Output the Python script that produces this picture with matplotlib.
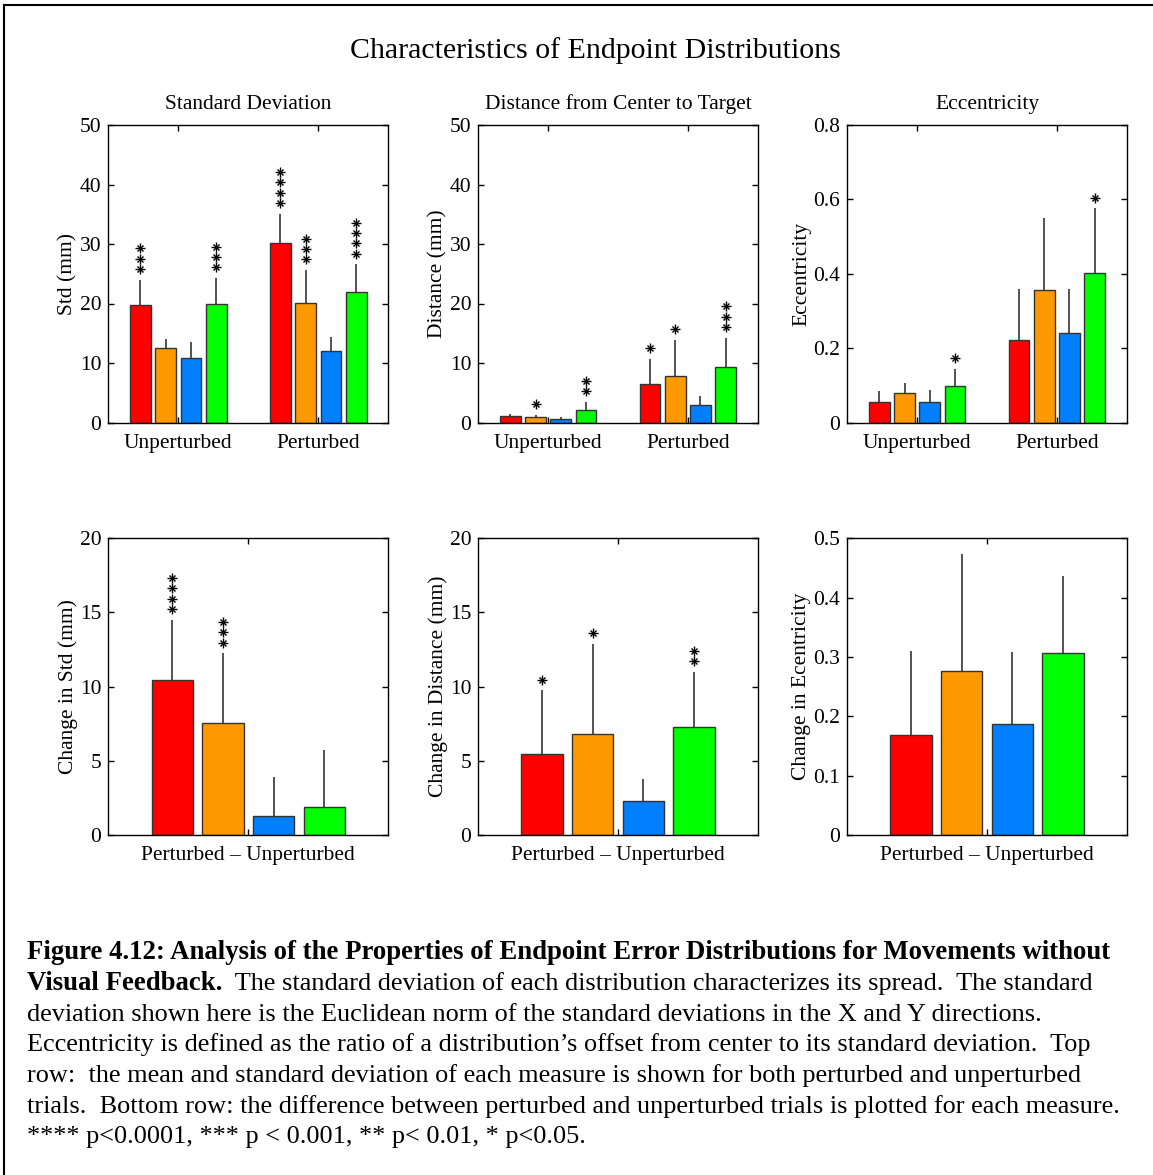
import matplotlib
matplotlib.use("Agg")
import matplotlib.pyplot as plt
import numpy as np
from matplotlib.lines import Line2D

plt.rcParams['font.family'] = ['Liberation Serif', 'DejaVu Serif']

# ---------------- data ----------------
colors = ['#FF0000', '#FF9900', '#0080FF', '#00FF00']
top_groups = ['Unperturbed', 'Perturbed']
diff_group = ['Perturbed \u2013 Unperturbed']

std_mean = [[19.7, 12.5, 10.8, 20.0], [30.2, 20.1, 12.05, 21.9]]
std_err = [[4.3, 1.6, 2.8, 4.3], [4.9, 5.5, 2.35, 4.7]]
std_stars = [[3, 0, 0, 3], [4, 3, 0, 4]]

dist_mean = [[1.06, 1.0, 0.62, 2.07], [6.5, 7.85, 2.91, 9.36]]
dist_err = [[0.45, 0.25, 0.3, 1.35], [4.15, 6.0, 1.52, 4.88]]
dist_stars = [[0, 1, 0, 2], [1, 1, 0, 3]]

ecc_mean = [[0.054, 0.078, 0.054, 0.097], [0.222, 0.355, 0.241, 0.403]]
ecc_err = [[0.030, 0.028, 0.033, 0.048], [0.138, 0.194, 0.119, 0.173]]
ecc_stars = [[0, 0, 0, 1], [0, 0, 0, 1]]

dstd_mean = [[10.43, 7.57, 1.28, 1.91]]
dstd_err = [[4.09, 4.68, 2.61, 3.82]]
dstd_stars = [[4, 3, 0, 0]]

ddist_mean = [[5.46, 6.83, 2.27, 7.28]]
ddist_err = [[4.29, 6.07, 1.53, 3.71]]
ddist_stars = [[1, 1, 0, 2]]

decc_mean = [[0.168, 0.277, 0.1865, 0.307]]
decc_err = [[0.142, 0.197, 0.1225, 0.130]]
decc_stars = [[0, 0, 0, 0]]

W, H = 1153, 1175
fig = plt.figure(figsize=(W / 100, H / 100), dpi=100)

def axrect(x0, y0, x1, y1):
    return [x0 / W, 1 - y1 / H, (x1 - x0) / W, (y1 - y0) / H]

offs = np.array([-1.5, -0.5, 0.5, 1.5]) * 0.181
bw = 0.148

def panel(rect, groups, means, errs, stars, ymax, yticks, ytl, ylabel, title=None):
    ax = fig.add_axes(rect)
    ng = len(groups)
    pos = np.arange(1, ng + 1)
    for g in range(ng):
        for k in range(4):
            x = pos[g] + offs[k]
            m = means[g][k]
            e = errs[g][k]
            ax.bar(x, m, width=bw, color=colors[k], edgecolor='#333333',
                   linewidth=1.0, zorder=2)
            ax.vlines(x, m, m + e, color='#444444', linewidth=1.3, zorder=1)
            # stars
            ppu = rect[3] * H / ymax  # pixels per unit
            for s in range(stars[g][k]):
                yy = m + e + (10.7 + 10.3 * s) / ppu
                ax.plot([x], [yy], marker='+', ms=6.5, mew=1.0, color='black', zorder=3, clip_on=False)
                ax.plot([x], [yy], marker='x', ms=4.8, mew=1.0, color='black', zorder=3, clip_on=False)
    ax.set_xlim(0.5, ng + 0.5)
    ax.set_ylim(0, ymax)
    ax.set_xticks(pos)
    ax.set_xticklabels(groups)
    ax.set_yticks(yticks)
    ax.set_yticklabels(ytl)
    ax.tick_params(direction='in', top=True, right=True, length=4, width=1,
                   labelsize=15.5, pad=5)
    ax.tick_params(axis='x', pad=8)
    for sp in ax.spines.values():
        sp.set_linewidth(1.0)
    ax.set_ylabel(ylabel, fontsize=15.5, labelpad=1.5)
    if title:
        ax.set_title(title, fontsize=15.5, pad=11.5)
    return ax

top_y = (125, 422.5)
bot_y = (538.3, 835)
cols = [(108.3, 388.3), (478.3, 757.7), (847.3, 1126.7)]

panel(axrect(cols[0][0], top_y[0], cols[0][1], top_y[1]), top_groups, std_mean, std_err,
      std_stars, 50, [0, 10, 20, 30, 40, 50], ['0', '10', '20', '30', '40', '50'],
      'Std (mm)', 'Standard Deviation')
panel(axrect(cols[1][0], top_y[0], cols[1][1], top_y[1]), top_groups, dist_mean, dist_err,
      dist_stars, 50, [0, 10, 20, 30, 40, 50], ['0', '10', '20', '30', '40', '50'],
      'Distance (mm)', 'Distance from Center to Target')
panel(axrect(cols[2][0], top_y[0], cols[2][1], top_y[1]), top_groups, ecc_mean, ecc_err,
      ecc_stars, 0.8, [0, 0.2, 0.4, 0.6, 0.8], ['0', '0.2', '0.4', '0.6', '0.8'],
      'Eccentricity', 'Eccentricity')
panel(axrect(cols[0][0], bot_y[0], cols[0][1], bot_y[1]), diff_group, dstd_mean, dstd_err,
      dstd_stars, 20, [0, 5, 10, 15, 20], ['0', '5', '10', '15', '20'],
      'Change in Std (mm)')
panel(axrect(cols[1][0], bot_y[0], cols[1][1], bot_y[1]), diff_group, ddist_mean, ddist_err,
      ddist_stars, 20, [0, 5, 10, 15, 20], ['0', '5', '10', '15', '20'],
      'Change in Distance (mm)')
panel(axrect(cols[2][0], bot_y[0], cols[2][1], bot_y[1]), diff_group, decc_mean, decc_err,
      decc_stars, 0.5, [0, 0.1, 0.2, 0.3, 0.4, 0.5], ['0', '0.1', '0.2', '0.3', '0.4', '0.5'],
      'Change in Ecentricity')

fig.text(595 / W, 1 - 51 / H, 'Characteristics of Endpoint Distributions',
         ha='center', va='center', fontsize=21.5)

# border
fig.add_artist(Line2D([4 / W, 1], [1 - 5 / H, 1 - 5 / H], color='black', lw=1.5,
                      transform=fig.transFigure))
fig.add_artist(Line2D([4 / W, 4 / W], [0, 1 - 5 / H], color='black', lw=1.5,
                      transform=fig.transFigure))

# caption
cap_fs = 18.9
cap_bfs = 19.3
x0 = 27 / W
base = [959, 990, 1020.7, 1051.3, 1082, 1112.7, 1143.3]
fig.text(x0, 1 - base[0] / H,
         'Figure 4.12: Analysis of the Properties of Endpoint Error Distributions for Movements without',
         fontsize=cap_bfs, fontweight='bold', va='baseline')
t_bold = fig.text(x0, 1 - base[1] / H, 'Visual Feedback.', fontsize=cap_bfs,
                  fontweight='bold', va='baseline')
fig.canvas.draw()
bb = t_bold.get_window_extent(renderer=fig.canvas.get_renderer())
fig.text(bb.x1 / W, 1 - base[1] / H,
         '  The standard deviation of each distribution characterizes its spread.  The standard',
         fontsize=cap_fs, va='baseline')
rest = [
    'deviation shown here is the Euclidean norm of the standard deviations in the X and Y directions.',
    'Eccentricity is defined as the ratio of a distribution\u2019s offset from center to its standard deviation.  Top',
    'row:  the mean and standard deviation of each measure is shown for both perturbed and unperturbed',
    'trials.  Bottom row: the difference between perturbed and unperturbed trials is plotted for each measure.',
    '**** p<0.0001, *** p < 0.001, ** p< 0.01, * p<0.05.',
]
for i, line in enumerate(rest):
    fig.text(x0, 1 - base[i + 2] / H, line, fontsize=cap_fs, va='baseline')

fig.savefig('out.png', dpi=100)
